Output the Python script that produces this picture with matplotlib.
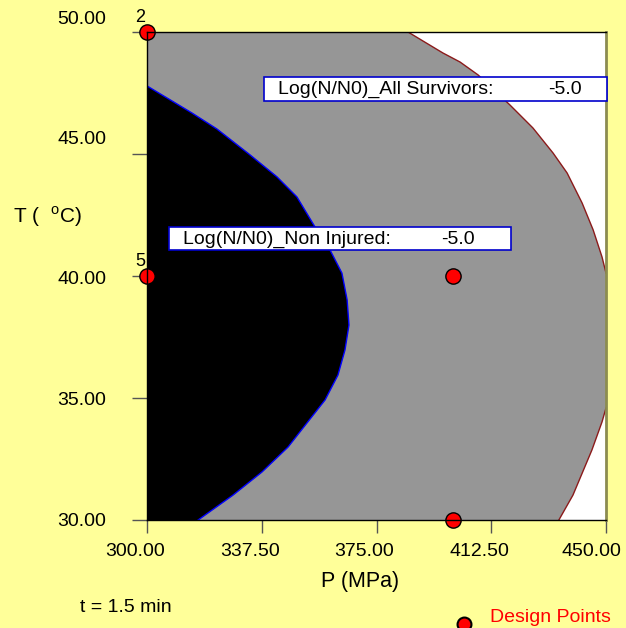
import numpy as np
import matplotlib.pyplot as plt
from matplotlib.patches import Rectangle, Polygon
from matplotlib.transforms import ScaledTranslation

plt.rcParams['font.family'] = ['Liberation Sans', 'DejaVu Sans']
plt.rcParams['mathtext.fontset'] = 'custom'
plt.rcParams['mathtext.rm'] = 'Liberation Sans'

W, H = 626, 628

# design points (P in MPa, T in C)
design_p = [300, 300, 400, 400]
design_t = [50, 40, 40, 30]
point_ids = ['2', '5', '', '']

# Log(N/N0)_All Survivors = -5.0 contour (upper arc and lower arc, clipped at P=450)
all_upper_p = [385.3, 396.7, 402.3, 408.2, 418.6, 426.1, 432.7, 437.3, 442.2, 445.8, 448.7, 450.0]
all_upper_t = [50.0, 49.14, 48.77, 48.24, 47.01, 46.07, 45.04, 44.22, 42.99, 41.89, 40.78, 40.12]
all_lower_p = [450.0, 448.7, 445.4, 439.2, 434.6]
all_lower_t = [34.59, 34.02, 32.87, 31.02, 30.0]

# Log(N/N0)_Non Injured = -5.0 contour
non_p = [300.0, 314.7, 322.9, 333.7, 342.5, 349.0, 354.9, 359.8, 363.7, 365.4, 366.0,
         364.7, 362.4, 358.2, 352.3, 346.1, 337.6, 328.1, 316.7]
non_t = [47.79, 46.68, 46.02, 44.96, 44.06, 43.24, 42.01, 41.07, 40.12, 39.02, 37.99,
         36.97, 35.94, 34.92, 33.98, 32.99, 31.97, 31.02, 30.0]

xticks = [300, 337.5, 375, 412.5, 450]
xtick_labels = ['300.00', '337.50', '375.00', '412.50', '450.00']
yticks = [30, 35, 40, 45, 50]
ytick_labels = ['30.00', '35.00', '40.00', '45.00', '50.00']

yellow = '#FFFF99'

def fx(x):
    return x / W

def fy(y):
    return 1 - y / H

fig = plt.figure(figsize=(6.26, 6.28), dpi=100, facecolor=yellow)
ax = fig.add_axes([fx(147), fy(520), fx(606) - fx(147), fy(32) - fy(520)])
ax.set_facecolor('white')
ax.set_xlim(300, 450)
ax.set_ylim(30, 50)

# gray region: all survivors
gray_pts = [(300, 30), (300, 50)] + list(zip(all_upper_p, all_upper_t)) + list(zip(all_lower_p, all_lower_t))
ax.add_patch(Polygon(gray_pts, closed=True, facecolor='#969696', edgecolor='none', zorder=1))
ax.plot(all_upper_p, all_upper_t, color='#8B1A1A', lw=1, zorder=1.2)
ax.plot(all_lower_p, all_lower_t, color='#8B1A1A', lw=1, zorder=1.2)

# black region: non injured
black_pts = [(300, 30)] + list(zip(non_p, non_t))
ax.add_patch(Polygon(black_pts, closed=True, facecolor='black', edgecolor='none', zorder=1.3))
ax.plot(non_p, non_t, color='#0000FF', lw=1, zorder=1.4)

# design points
ax.plot(design_p, design_t, 'o', ms=11, mfc='red', mec='black', mew=1,
        clip_on=False, zorder=2)
for p, t, s in zip(design_p, design_t, point_ids):
    if s:
        ax.annotate(s, (p, t), xytext=(-7, 14), textcoords='offset pixels',
                    ha='center', va='center', fontsize=13)

# axes styling
for side in ['left', 'top', 'bottom']:
    ax.spines[side].set_color('black')
    ax.spines[side].set_linewidth(1)
ax.spines['right'].set_color('#8C8C50')
ax.spines['right'].set_linewidth(2)

ax.set_xticks(xticks, xtick_labels)
ax.set_yticks(yticks, ytick_labels)
ax.tick_params(axis='x', direction='out', length=9.5, width=1, color='#555555',
               labelsize=14, pad=7)
ax.tick_params(axis='y', direction='out', length=10.5, width=1, color='#555555',
               labelsize=14, pad=19)

dpi = fig.dpi
for i, lab in enumerate(ax.get_xticklabels()):
    dx = -15 if i == len(xticks) - 1 else -12
    lab.set_transform(lab.get_transform() + ScaledTranslation(dx / dpi, 0, fig.dpi_scale_trans))
y_shift = [0, -1, -2, 16, 15]
for lab, dy in zip(ax.get_yticklabels(), y_shift):
    lab.set_transform(lab.get_transform() + ScaledTranslation(0, dy / dpi, fig.dpi_scale_trans))

# axis titles
fig.text(fx(360), fy(582), 'P (MPa)', ha='center', va='center', fontsize=15.5)
fig.text(fx(47), fy(217), r'T (  $^{\mathrm{o}}$C)', ha='center', va='center', fontsize=15)
fig.text(fx(80), fy(607), 't = 1.5 min', ha='left', va='center', fontsize=14)

# contour flags
fig.add_artist(Rectangle((fx(264), fy(101)), fx(607) - fx(264), fy(77) - fy(101),
                         transform=fig.transFigure, facecolor='white', edgecolor='#0000CC', lw=1.2))
fig.text(fx(278), fy(89), 'Log(N/N0)_All Survivors:', ha='left', va='center', fontsize=14)
fig.text(fx(582), fy(89), '-5.0', ha='right', va='center', fontsize=14)

fig.add_artist(Rectangle((fx(169), fy(250)), fx(511) - fx(169), fy(227) - fy(250),
                         transform=fig.transFigure, facecolor='white', edgecolor='#0000CC', lw=1.2))
fig.text(fx(183), fy(239), 'Log(N/N0)_Non Injured:', ha='left', va='center', fontsize=14)
fig.text(fx(475), fy(239), '-5.0', ha='right', va='center', fontsize=14)

# legend
fig.add_artist(plt.Line2D([fx(464)], [fy(624)], marker='o', ms=10, mfc='red', mec='black',
                          mew=1.5, transform=fig.transFigure))
fig.text(fx(490), fy(618), 'Design Points', ha='left', va='center', fontsize=14, color='red')

fig.savefig('out.png', dpi=100, facecolor=yellow)
